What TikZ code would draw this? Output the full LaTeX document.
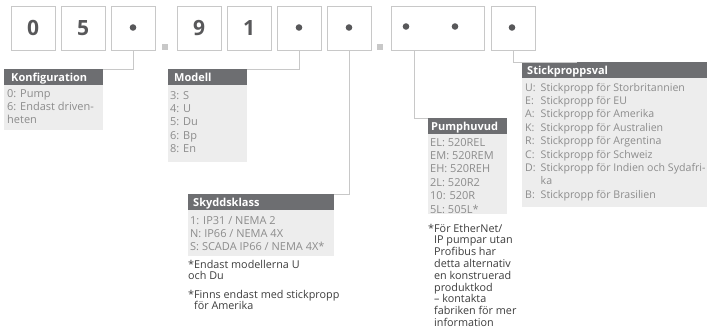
\documentclass[tikz,border=0pt]{standalone}
\usepackage{fontspec}
\setmainfont{Open Sans}
\definecolor{boxline}{HTML}{C8C8C8}
\definecolor{hdrfill}{HTML}{6D6E71}
\definecolor{bodyfill}{HTML}{EDEDED}
\definecolor{bodytext}{HTML}{8C8C8C}
\definecolor{notetext}{HTML}{3C3C3C}
\definecolor{digit}{HTML}{58585A}
\newcommand{\bodyfont}{\fontsize{11}{13.4}\selectfont}
\newcommand{\stickfont}{\fontsize{10.6}{13.4}\selectfont}
\newcommand{\notefont}{\fontsize{10.8}{11.8}\selectfont}
\tikzset{
  codebox/.style={draw=boxline, line width=1pt, minimum width=44pt, minimum height=44pt,
    inner sep=0pt, text height=15pt, text depth=0pt, font=\fontsize{21}{24}\selectfont\bfseries, text=digit},
  sepsq/.style={fill=boxline, minimum size=6pt, inner sep=0pt},
  codedot/.style={circle, fill=digit, minimum size=6.6pt, inner sep=0pt},
  conn/.style={draw=boxline, line width=1pt},
  hdrbox/.style={fill=hdrfill, text=white, anchor=north west, minimum height=16pt, inner ysep=0pt,
    inner xsep=0pt, text height=7.9pt, text depth=0pt, align=left,
    font=\fontsize{11}{12}\selectfont\bfseries},
  bodybox/.style={fill=bodyfill, anchor=north west, inner sep=0pt},
  bodytxt/.style={anchor=base west, inner sep=0pt, text=bodytext, font=\bodyfont},
  notetxt/.style={anchor=base west, inner sep=0pt, text=notetext, font=\notefont},
}
\begin{document}
\begin{tikzpicture}[x=1pt, y=-1pt]
\useasboundingbox (0,0) rectangle (707,332);
% code boxes
\node[codebox] (b1) at (33,28) {0};
\node[codebox] (b2) at (83,28) {5};
\node[codebox] (b3) at (133,28) {};
\node[sepsq] (s1) at (165,46.5) {};
\node[codebox] (b4) at (199,28) {9};
\node[codebox] (b5) at (249,28) {1};
\node[codebox] (b6) at (299,28) {};
\node[codebox] (b7) at (349,28) {};
\node[sepsq] (s2) at (380,46.5) {};
\node[codebox, minimum width=93pt] (b8) at (437.5,28) {};
\node[codebox] (b9) at (513,28) {};
\node[codedot] (d3) at (133,27.5) {};
\node[codedot] (d6) at (299,27.5) {};
\node[codedot] (d7) at (349,27.5) {};
\node[codedot] (d8a) at (406,26.5) {};
\node[codedot] (d8b) at (455,26.5) {};
\node[codedot] (d9) at (512,27.5) {};

% Konfiguration
\node[bodybox, minimum width=99pt, minimum height=45pt] (bkonf) at (4,85) {};
\node[hdrbox, text width=93pt, minimum width=99pt, inner xsep=3pt] (hkonf) at (4,69) {\hspace{4pt}Konfiguration};
\node[bodytxt] (tkonf) at (7,97) {\begin{tabular}[t]{@{}l@{}}0: Pump\\6: Endast driven-\\heten\end{tabular}};

% Modell
\node[bodybox, minimum width=79pt, minimum height=77pt] (bmod) at (168,85) {};
\node[hdrbox, text width=73pt, minimum width=79pt, inner xsep=3pt] (hmod) at (168,69) {\hspace{3pt}Modell};
\node[bodytxt] (tmod) at (170,99) {\begin{tabular}[t]{@{}l@{}}3: S\\4: U\\5: Du\\6: Bp\\8: En\end{tabular}};

% Skyddsklass
\node[bodybox, minimum width=146pt, minimum height=46pt] (bskydd) at (188,210) {};
\node[hdrbox, text width=140pt, minimum width=146pt, inner xsep=3pt] (hskydd) at (188,194) {\hspace{2pt}Skyddsklass};
\node[bodytxt] (tskydd) at (190,224) {\begin{tabular}[t]{@{}l@{}}1: IP31 / NEMA 2\\N: IP66 / NEMA 4X\\S: SCADA IP66 / NEMA 4X*\end{tabular}};
\node[notetxt] (nskydda) at (188,268) {\begin{tabular}[t]{@{}l@{}}*Endast modellerna U\\och Du\end{tabular}};
\node[notetxt] (nskyddb) at (188,298) {\begin{tabular}[t]{@{}l@{}}*Finns endast med stickpropp\\\phantom{*}för Amerika\end{tabular}};

% Pumphuvud
\node[bodybox, minimum width=79pt, minimum height=80pt] (bpump) at (428,134) {};
\node[hdrbox, text width=75pt, minimum width=79pt, inner xsep=2pt] (hpump) at (428,118) {\hspace{1pt}Pumphuvud};
\node[bodytxt] (tpump) at (430,146) {\begin{tabular}[t]{@{}l@{}}EL: 520REL\\EM: 520REM\\EH: 520REH\\2L: 520R2\\10: 520R\\5L: 505L*\end{tabular}};
\node[notetxt] (npump) at (428,232) {\begin{tabular}[t]{@{}l@{}}*För EtherNet/\\\phantom{*}IP pumpar utan\\\phantom{*}Profibus har\\\phantom{*}detta alternativ\\\phantom{*}en konstruerad\\\phantom{*}produktkod\\\phantom{*}– kontakta\\\phantom{*}fabriken för mer\\\phantom{*}information\end{tabular}};

% Stickproppsval
\node[bodybox, minimum width=185pt, minimum height=129pt] (bstick) at (522,78) {};
\node[hdrbox, text width=181pt, minimum width=185pt, inner xsep=2pt] (hstick) at (522,62) {\hspace{3pt}Stickproppsval};
\node[bodytxt, font=\stickfont] (tstick) at (525,91) {\begin{tabular}[t]{@{}l@{}l@{}}
\makebox[15.5pt][l]{U:}&Stickpropp för Storbritannien\\
\makebox[15.5pt][l]{E:}&Stickpropp för EU\\
\makebox[15.5pt][l]{A:}&Stickpropp för Amerika\\
\makebox[15.5pt][l]{K:}&Stickpropp för Australien\\
\makebox[15.5pt][l]{R:}&Stickpropp för Argentina\\
\makebox[15.5pt][l]{C:}&Stickpropp för Schweiz\\
\makebox[15.5pt][l]{D:}&Stickpropp för Indien och Sydafri-\\
&ka\\
\makebox[15.5pt][l]{B:}&Stickpropp för Brasilien\end{tabular}};

% connectors
\coordinate (stickend) at (577,62);
\draw[conn] (b3.south) |- (hkonf.north east);
\draw[conn] (b6.south) |- (hmod.north east);
\draw[conn] (b7.south) |- (hskydd.north east);
\draw[conn] ([xshift=-23.5pt]b8.south) |- (hpump.north west);
\draw[conn] (b9.south) |- (stickend);
\end{tikzpicture}
\end{document}
